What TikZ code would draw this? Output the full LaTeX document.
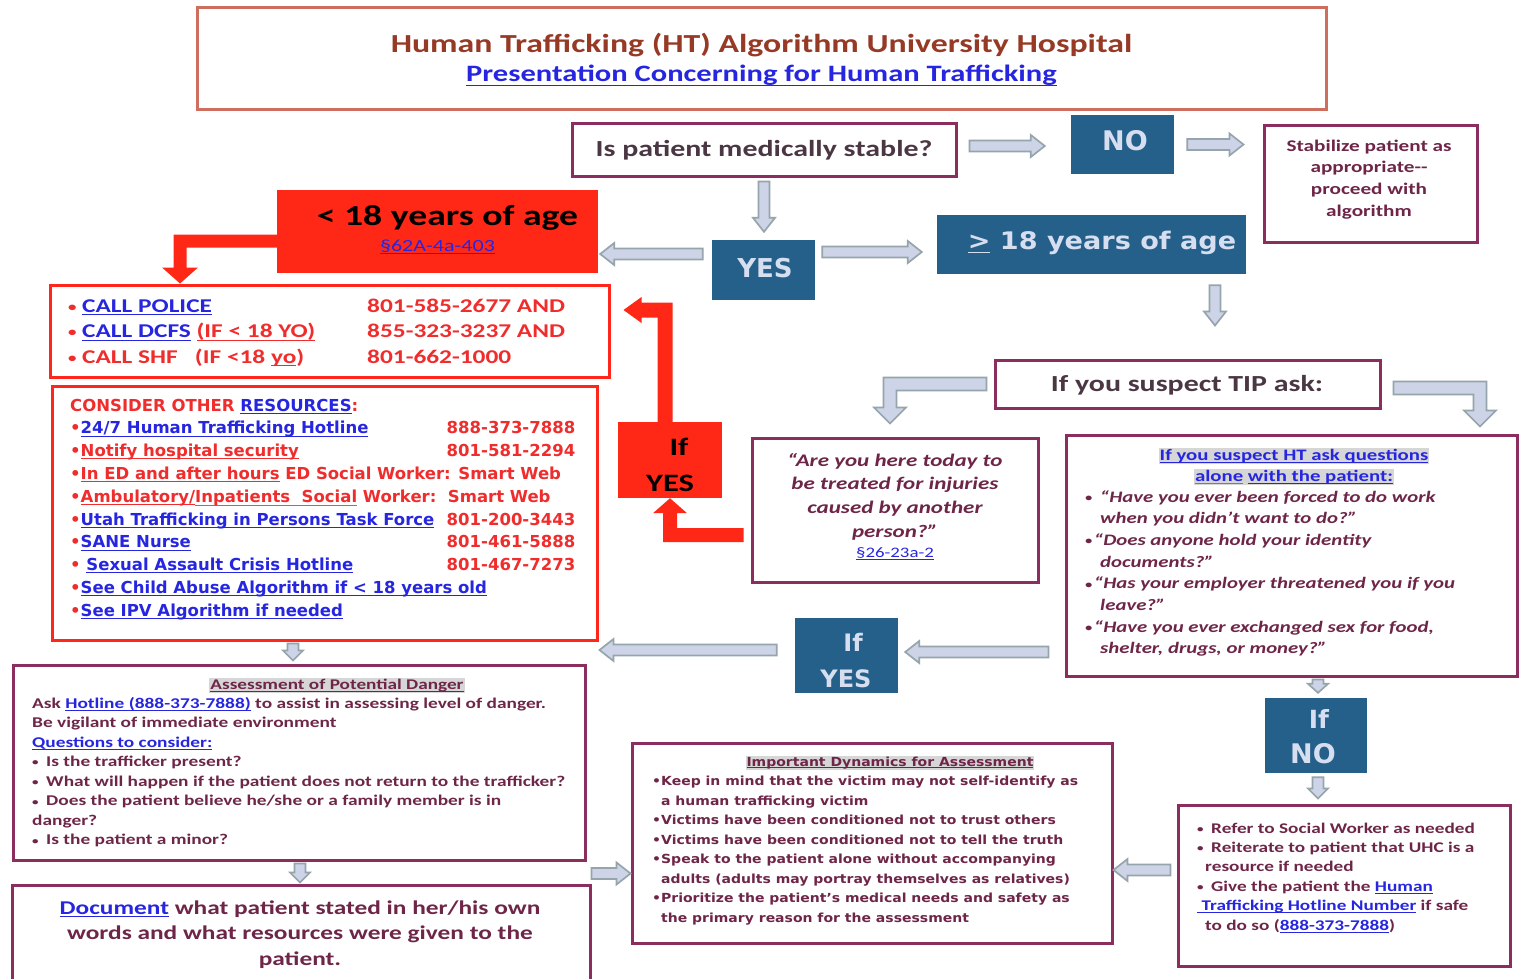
\documentclass[tikz,border=0pt]{standalone}
\usepackage{fontspec}
\usetikzlibrary{calc}
\setmainfont{Carlito}[FakeStretch=1.3]
\newfontfamily\dvs{DejaVu Sans}
\newfontfamily\dvw{DejaVu Sans}[FakeStretch=1.12]
\setlength{\fboxsep}{1pt}

\definecolor{titleline}{RGB}{205,110,95}
\definecolor{titlebrown}{RGB}{150,58,38}
\definecolor{lnk}{RGB}{38,38,225}
\definecolor{mline}{RGB}{140,45,95}
\definecolor{mtxt}{RGB}{110,38,72}
\definecolor{dtxt}{RGB}{75,55,68}
\definecolor{rline}{RGB}{255,38,28}
\definecolor{rfill}{RGB}{255,40,22}
\definecolor{rtxt}{RGB}{240,45,45}
\definecolor{bfill}{RGB}{36,96,138}
\definecolor{btxt}{RGB}{214,222,240}
\definecolor{afill}{RGB}{206,212,232}
\definecolor{aline}{RGB}{150,164,172}
\definecolor{hl}{RGB}{214,214,214}
\definecolor{wgreen}{RGB}{60,170,60}

\newcommand\fs[2]{\fontsize{#1}{#2}\selectfont}
\newcommand\colL[1]{\begin{tabular}[t]{@{}l@{}}#1\end{tabular}}
\newcommand\colC[1]{\begin{tabular}[t]{@{}c@{}}#1\end{tabular}}
% underline at a fixed depth, in the current colour
\newcommand\ul[1]{\begingroup\setbox0=\hbox{#1}\rlap{\rule[-0.17em]{\wd0}{0.06em}}\box0\endgroup}
% spell-check style green mark under a word
\newcommand\gw[1]{\begingroup\setbox0=\hbox{#1}\rlap{\textcolor{wgreen}{\rule[-0.2em]{\wd0}{0.05em}}}\box0\endgroup}
% small bullet of a given size, set in a box of a given width
\newcommand\sbul[2]{\makebox[#2][l]{\raisebox{0.05em}{\fontsize{#1}{#1}\selectfont •}}}
\newcommand\rb{\textcolor{rtxt}{•}}
\newcommand\pb{\textcolor{rtxt}{\sbul{13pt}{14pt}}}

% block arrow sizes: shaft half width, head half width, head length
\def\aw{5.5pt}\def\ah{11pt}\def\al{14pt}
\tikzset{bw/.store in=\aw, bh/.store in=\ah, bl/.store in=\al}

% straight horizontal block arrow (uses the y of the start point)
\newcommand\hblock[3][]{%
  \path[garrow,#1] let \p1=(#2), \p2=(#3), \n1={ifthenelse(\x2>\x1,1,-1)} in
    (\x1,{\y1+\aw}) -- ({\x2-(\n1)*\al},{\y1+\aw}) -- ({\x2-(\n1)*\al},{\y1+\ah})
    -- (\x2,\y1) -- ({\x2-(\n1)*\al},{\y1-\ah}) -- ({\x2-(\n1)*\al},{\y1-\aw})
    -- (\x1,{\y1-\aw}) -- cycle;}
% straight vertical block arrow (uses the x of the start point)
\newcommand\vblock[3][]{%
  \path[garrow,#1] let \p1=(#2), \p2=(#3), \n1={ifthenelse(\y2>\y1,1,-1)} in
    ({\x1+\aw},\y1) -- ({\x1+\aw},{\y2-(\n1)*\al}) -- ({\x1+\ah},{\y2-(\n1)*\al})
    -- (\x1,\y2) -- ({\x1-\ah},{\y2-(\n1)*\al}) -- ({\x1-\aw},{\y2-(\n1)*\al})
    -- ({\x1-\aw},\y1) -- cycle;}
% elbow block arrow: horizontal first, then vertical
\newcommand\hvblock[3][]{%
  \path[garrow,#1] let \p1=(#2), \p2=(#3), \n1={ifthenelse(\x2>\x1,1,-1)},
      \n2={ifthenelse(\y2>\y1,1,-1)} in
    (\x1,{\y1-(\n2)*\aw}) -- ({\x2+(\n1)*\aw},{\y1-(\n2)*\aw})
    -- ({\x2+(\n1)*\aw},{\y2-(\n2)*\al}) -- ({\x2+(\n1)*\ah},{\y2-(\n2)*\al})
    -- (\x2,\y2) -- ({\x2-(\n1)*\ah},{\y2-(\n2)*\al}) -- ({\x2-(\n1)*\aw},{\y2-(\n2)*\al})
    -- ({\x2-(\n1)*\aw},{\y1+(\n2)*\aw}) -- (\x1,{\y1+(\n2)*\aw}) -- cycle;}
% elbow block arrow: vertical first, then horizontal
\newcommand\vhblock[3][]{%
  \path[garrow,#1] let \p1=(#2), \p2=(#3), \n1={ifthenelse(\x2>\x1,1,-1)},
      \n2={ifthenelse(\y2>\y1,1,-1)} in
    ({\x1-(\n1)*\aw},\y1) -- ({\x1-(\n1)*\aw},{\y2+(\n2)*\aw})
    -- ({\x2-(\n1)*\al},{\y2+(\n2)*\aw}) -- ({\x2-(\n1)*\al},{\y2+(\n2)*\ah})
    -- (\x2,\y2) -- ({\x2-(\n1)*\al},{\y2-(\n2)*\ah}) -- ({\x2-(\n1)*\al},{\y2-(\n2)*\aw})
    -- ({\x1+(\n1)*\aw},{\y2-(\n2)*\aw}) -- ({\x1+(\n1)*\aw},\y1) -- cycle;}

\begin{document}
\begin{tikzpicture}[x=1pt,y=-1pt,
  panel/.style={line width=3pt, inner sep=0pt, fill=white},
  mbox/.style={panel, draw=mline},
  rbox/.style={panel, draw=rline},
  tbox/.style={panel, draw=titleline},
  bluebox/.style={fill=bfill, inner sep=0pt},
  redbox/.style={fill=rfill, inner sep=0pt},
  txt/.style={inner sep=0pt, anchor=base},
  txtl/.style={inner sep=0pt, anchor=base west},
  garrow/.style={fill=afill, draw=aline, line width=1.7pt, line join=miter},
  rarrow/.style={fill=rfill, draw=none},
]
\useasboundingbox (0,0) rectangle (1520,979);
\fill[white] (0,0) rectangle (1520,979);

% ---------- title ----------
\node[tbox, minimum width=1129pt, minimum height=102pt] (title) at (761.5,59) {};
\node[txt, font=\bfseries\fs{26}{30}, text=titlebrown] (title-a) at (761.5,53)
  {Human Trafficking (HT) Algorithm University Hospital};
\node[txt, font=\bfseries\fs{23.5}{28}, text=lnk] (title-b) at (761.5,82)
  {\ul{Presentation Concerning for Human Trafficking}};

% ---------- first decision ----------
\node[mbox, minimum width=384pt, minimum height=52pt] (stable) at (764,150) {};
\node[txt, font=\bfseries\fs{23}{28}, text=dtxt] (stable-t) at (764,157) {Is patient medically stable?};

\node[bluebox, minimum width=103pt, minimum height=59pt] (no) at (1122.5,144.5) {};
\node[txt, font=\dvs\bfseries\fs{27}{32}, text=btxt] (no-t) at (1125,150) {NO};

\node[mbox, minimum width=213pt, minimum height=116pt] (stab) at (1370.5,184) {};
\node[txt, font=\bfseries\fs{16.3}{21.7}, text=mtxt] (stab-t) at (1369,151)
  {\colC{Stabilize patient as\\appropriate{-}{-}\\proceed with\\algorithm}};

\node[bluebox, minimum width=103pt, minimum height=60pt] (yes) at (763.5,270) {};
\node[txt, font=\dvs\bfseries\fs{26}{30}, text=btxt] (yes-t) at (765,277.5) {YES};

% ---------- age split ----------
\node[redbox, minimum width=321pt, minimum height=83pt] (under18) at (437.5,231.5) {};
\node[txt, font=\bfseries\fs{29}{34}, text=black] (under18-t) at (447.5,225) {< 18 years of age};
\node[txt, font=\fs{17}{20}, text=lnk] (under18-l) at (437.5,251) {\ul{§62A-4a-403}};

\node[bluebox, minimum width=309pt, minimum height=59pt] (over18) at (1091.5,244.5) {};
\node[txt, font=\dvw\bfseries\fs{24.2}{30}, text=btxt] (over18-t) at (1102,249) {\ul{>} 18 years of age};

% ---------- calls ----------
\node[rbox, minimum width=559pt, minimum height=92pt] (police) at (329.5,331) {};
\node[txtl, font=\bfseries\fs{19.5}{25.5}] (police-t) at (68,312) {\colL{%
\pb\makebox[285pt][l]{\textcolor{lnk}{\ul{CALL POLICE}}}\textcolor{rtxt}{801-585-2677 AND}\\
\pb\makebox[285pt][l]{\textcolor{lnk}{\ul{CALL DCFS}} \textcolor{rtxt}{\ul{(IF < 18 YO)}}}\textcolor{rtxt}{855-323-3237 AND}\\
\pb\makebox[285pt][l]{\textcolor{rtxt}{CALL SHF\ \ \ (IF <18 \ul{yo})}}\textcolor{rtxt}{801-662-1000}}};

% ---------- resources ----------
\node[rbox, minimum width=545pt, minimum height=254pt] (res) at (324.5,513) {};
\node[txtl, font=\dvs\bfseries\fs{16.5}{22.8}] (res-t) at (70,411) {\colL{%
\textcolor{rtxt}{CONSIDER OTHER }\textcolor{lnk}{\ul{RESOURCES}}\textcolor{rtxt}{:}\\
\rb\makebox[366pt][l]{\textcolor{lnk}{\ul{24/7 Human Trafficking Hotline}}}\textcolor{rtxt}{888-373-7888}\\
\rb\makebox[366pt][l]{\textcolor{rtxt}{\ul{Notify hospital security}}}\textcolor{rtxt}{801-581-2294}\\
\rb\textcolor{rtxt}{\ul{In ED and after hours} ED Social Worker: Smart Web}\\
\rb\textcolor{rtxt}{\ul{Ambulatory/}\gw{Inpatients\ \ Social} Worker:\ \ Smart Web}\\
\rb\makebox[366pt][l]{\textcolor{lnk}{\ul{Utah Trafficking in Persons Task Force}}}\textcolor{rtxt}{801-200-3443}\\
\rb\makebox[366pt][l]{\textcolor{lnk}{\ul{SANE Nurse}}}\textcolor{rtxt}{801-461-5888}\\
\rb\makebox[366pt][l]{\ \textcolor{lnk}{\ul{Sexual Assault Crisis Hotline}}}\textcolor{rtxt}{801-467-7273}\\
\rb\textcolor{lnk}{\ul{See Child Abuse Algorithm if < 18 years old}}\\
\rb\textcolor{lnk}{\ul{See IPV Algorithm if needed}}}};

% ---------- red "If YES" ----------
\node[redbox, minimum width=104pt, minimum height=76pt] (ryes) at (670,460) {};
\node[txt, font=\bfseries\fs{25}{36}, text=black] (ryes-t) at (670,455) {\colC{\hspace*{18pt}If\\YES}};

% ---------- TIP ----------
\node[mbox, minimum width=385pt, minimum height=48pt] (tip) at (1187.5,384) {};
\node[txt, font=\bfseries\fs{23}{28}, text=dtxt] (tip-t) at (1187,391) {If you suspect TIP ask:};

\node[mbox, minimum width=286pt, minimum height=144pt] (quote) at (895,510) {};
\node[txt, font=\bfseries\itshape\fs{17.7}{23.7}, text=mtxt] (quote-t) at (895,466)
  {\colC{“Are you here today to\\be treated for injuries\\caused by another\\person?”}};
\node[txt, font=\fs{14.5}{18}, text=lnk] (quote-l) at (895,557) {\ul{§26-23a-2}};

\node[mbox, minimum width=451pt, minimum height=241pt] (quest) at (1291.5,555.5) {};
\node[txt, font=\bfseries\fs{16}{20}, text=lnk] (quest-h1) at (1294,460)
  {\colorbox{hl}{\ul{If you suspect HT ask questions}}};
\node[txt, font=\bfseries\fs{16}{20}, text=lnk] (quest-h2) at (1294,481)
  {\colorbox{hl}{\gw{alone} \ul{with the patient:}}};
\node[txtl, font=\bfseries\itshape\fs{16}{21.7}, text=mtxt] (quest-t) at (1085,502) {\colL{%
\sbul{11pt}{15pt}“Have you ever been forced to do work\\
\hspace*{15pt}when you didn’t want to do?”\\
\sbul{11pt}{9pt}“Does anyone hold your identity\\
\hspace*{15pt}documents?”\\
\sbul{11pt}{9pt}“Has your employer threatened you if you\\
\hspace*{15pt}leave?”\\
\sbul{11pt}{9pt}“Have you ever exchanged sex for food,\\
\hspace*{15pt}shelter, drugs, or money?”}};

% ---------- blue If YES / If NO ----------
\node[bluebox, minimum width=103pt, minimum height=75pt] (byes) at (846.5,655.5) {};
\node[txt, font=\dvs\bfseries\fs{24}{36}, text=btxt] (byes-t) at (846,651) {\colC{\hspace*{14pt}If\\YES}};

\node[bluebox, minimum width=102pt, minimum height=75pt] (ifno) at (1316,735.5) {};
\node[txt, font=\dvs\bfseries\fs{25}{35}, text=btxt] (ifno-t) at (1313,728) {\colC{\hspace*{12pt}If\\\fs{27}{35}NO}};

% ---------- lower panels ----------
\node[mbox, minimum width=332pt, minimum height=161pt] (refer) at (1344,885.5) {};
\node[txtl, font=\bfseries\fs{14.8}{19.4}, text=mtxt] (refer-t) at (1197,833) {\colL{%
\sbul{10pt}{14pt}Refer to Social Worker as needed\\
\sbul{10pt}{14pt}Reiterate to patient that UHC is a\\
\hspace*{8pt}resource if needed\\
\sbul{10pt}{14pt}Give the patient the \textcolor{lnk}{\ul{Human}}\\
\textcolor{lnk}{\ul{\ Trafficking Hotline Number}} if safe\\
\hspace*{8pt}to do so (\textcolor{lnk}{\ul{888-373-7888}})}};

\node[mbox, minimum width=480pt, minimum height=200pt] (dyn) at (872,843) {};
\node[txt, font=\dvw\bfseries\fs{12.5}{16}, text=mtxt] (dyn-h) at (890,766)
  {\colorbox{hl}{\ul{Important Dynamics for Assessment}}};
\node[txtl, font=\dvw\bfseries\fs{12.5}{19.57}, text=mtxt] (dyn-t) at (652,785.5) {\colL{%
•Keep in mind that the victim may not self-identify as\\
\phantom{•}a human trafficking victim\\
•Victims have been conditioned not to trust others\\
•Victims have been conditioned not to tell the truth\\
•Speak to the patient alone without accompanying\\
\phantom{•}adults (adults may portray themselves as relatives)\\
•Prioritize the patient’s medical needs and safety as\\
\phantom{•}the primary reason for the assessment}};

\node[mbox, minimum width=572pt, minimum height=195pt] (assess) at (299,762.5) {};
\node[txt, font=\bfseries\fs{14.8}{18}, text=mtxt] (assess-h) at (337,689)
  {\colorbox{hl}{\ul{Assessment of Potential Danger}}};
\node[txtl, font=\bfseries\fs{14.9}{19.57}, text=mtxt] (assess-t) at (32,708) {\colL{%
Ask \textcolor{lnk}{\ul{Hotline (888-373-7888)}} to assist in assessing level of danger.\\
Be vigilant of immediate environment\\
\textcolor{lnk}{\ul{Questions to consider:}}\\
\sbul{10pt}{14pt}Is the trafficker present?\\
\sbul{10pt}{14pt}What will happen if the patient does not return to the trafficker?\\
\sbul{10pt}{14pt}Does the patient believe he/she or a family member is in\\
danger?\\
\sbul{10pt}{14pt}Is the patient a minor?}};

\node[mbox, minimum width=578pt, minimum height=102pt] (doc) at (301,936) {};
\node[txt, font=\bfseries\fs{19.5}{25.5}, text=mtxt] (doc-t) at (300,914) {\colC{%
\textcolor{lnk}{\ul{Document}} what patient stated in her/his own\\
words and what resources were given to the\\
patient.}};

% ---------- gray connectors ----------
\hblock{[xshift=12pt,yshift=4pt]stable.east}{[xshift=-26pt]no.west}
\hblock{[xshift=13pt]no.east}{[xshift=-19pt]stab.west}
\vblock{[yshift=-4pt]stable.south}{[yshift=8pt]yes.north}
\hblock{[xshift=-9pt,yshift=16pt]yes.west}{[xshift=2pt]under18.east}
\hblock{[xshift=7pt,yshift=18pt]yes.east}{[xshift=-15pt]over18.west}
\vblock{[xshift=123.5pt,yshift=-11pt]over18.south}{[yshift=33pt]tip.north}
\hvblock[bw=6.5pt,bh=16pt,bl=16pt]{[xshift=-7pt]tip.west}{[xshift=-5pt,yshift=13pt]quote.north}
\hvblock[bw=6.5pt,bh=16pt,bl=16pt]{[xshift=12pt,yshift=-4pt]tip.east}{[xshift=188.5pt,yshift=7pt]quest.north}
\hblock{[xshift=-16pt,yshift=-96.5pt]quest.west}{[xshift=7pt]byes.east}
\hblock{[xshift=-18pt,yshift=5.5pt]byes.west}{[xshift=1pt]res.east}
\vblock[bh=10pt,bl=9pt]{[xshift=26.5pt,yshift=-2pt]quest.south}{[yshift=5pt]ifno.north}
\vblock[bh=10pt,bl=10pt]{[xshift=2pt,yshift=-4pt]ifno.south}{[yshift=5pt]refer.north}
\hblock{[xshift=-6pt,yshift=15.5pt]refer.west}{dyn.east}
\vblock[bh=10pt,bl=10pt]{[xshift=-31.5pt,yshift=-2pt]res.south}{[yshift=3pt]assess.north}
\vblock[bh=10pt,bl=10pt]{[xshift=1pt,yshift=-2pt]assess.south}{[yshift=1pt]doc.north}
\hblock{[xshift=5pt,yshift=-12pt]assess.south east}{dyn.west}

% ---------- red connectors ----------
\hvblock[rarrow,bw=6.5pt,bh=18pt,bl=16pt]{[yshift=-9.5pt]under18.west}{[xshift=-149.5pt]police.north}
\vhblock[rarrow,bw=7.5pt,bh=13pt,bl=18pt]{[xshift=-5pt]ryes.north}{[xshift=13pt,yshift=21pt]police.east}
\hvblock[rarrow,bw=7pt,bh=17pt,bl=15pt]{[xshift=-7pt,yshift=-25pt]quote.west}{ryes.south}
\end{tikzpicture}
\end{document}
